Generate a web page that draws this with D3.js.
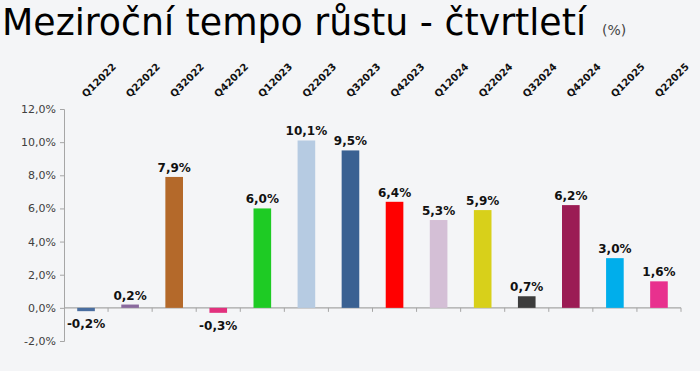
<!DOCTYPE html>
<html><head><meta charset="utf-8">
<script src="https://cdn.jsdelivr.net/npm/d3@7"></script>
<style>
html,body{margin:0;padding:0;background:#f4f5f7;}
svg{display:block;}
</style></head>
<body>
<svg id="chart" width="700" height="371"></svg>
<script>
const categories = ["Q12022","Q22022","Q32022","Q42022","Q12023","Q22023","Q32023","Q42023","Q12024","Q22024","Q32024","Q42024","Q12025","Q22025"];
const values = [-0.2, 0.2, 7.9, -0.3, 6.0, 10.1, 9.5, 6.4, 5.3, 5.9, 0.7, 6.2, 3.0, 1.6];
const colors = ["#4a6ea0","#8a6a9e","#b4692a","#e2317e","#1ecb24","#b6cbe2","#3a6192","#ff0000","#d4bfd6","#d8d01a","#3c3c3c","#9b1c54","#00aeeb","#e8318e"];
const yTicks = [-2, 0, 2, 4, 6, 8, 10, 12];
const titleText = "Meziroční tempo růstu - čtvrtletí";
const unitText = "(%)";

const svg = d3.select("#chart");
const mLeft = 64, mRight = 681, mTop = 109, mBottom = 341;

const x = d3.scaleBand().domain(categories).range([mLeft, mRight]).paddingInner(0.6).paddingOuter(0.3);
const xb = d3.scaleBand().domain(categories).range([mLeft, mRight]);
const y = d3.scaleLinear().domain([-2, 12]).range([mBottom, mTop]);
const fmt = v => d3.format(".1f")(v).replace(".", ",").replace("−","-") + "%";

// title
const t = svg.append("text").attr("x", 2).attr("y", 35)
  .style("font-family", "'DejaVu Sans Condensed', 'DejaVu Sans', sans-serif")
  .style("font-stretch", "condensed")
  .style("font-size", "38px").attr("fill", "#000").text(titleText);
t.attr("textLength", 584).attr("lengthAdjust", "spacingAndGlyphs");
svg.append("text").attr("x", 602).attr("y", 35)
  .style("font-family", "'DejaVu Sans', sans-serif").style("font-size", "14px")
  .attr("fill", "#444").text(unitText);

// y axis
const yAxis = d3.axisLeft(y).tickValues(yTicks).tickSize(4).tickPadding(4).tickFormat(fmt);
const gy = svg.append("g").attr("transform", `translate(${mLeft},0)`).call(yAxis);
gy.select(".domain").attr("stroke", "#a6a6a6");
gy.selectAll(".tick line").attr("stroke", "#a6a6a6");
gy.selectAll(".tick text").attr("fill", "#404040")
  .style("font-family", "'DejaVu Sans', sans-serif").style("font-size", "11px");

// x axis at zero
const gx = svg.append("g").attr("transform", `translate(0,${y(0)})`);
gx.append("line").attr("x1", mLeft).attr("x2", mRight).attr("stroke", "#a6a6a6").attr("stroke-width", 1.2);
gx.selectAll("line.tk").data(categories).enter().append("line").attr("class", "tk")
  .attr("x1", d => xb(d) + xb.bandwidth()).attr("x2", d => xb(d) + xb.bandwidth())
  .attr("y1", 0).attr("y2", 4).attr("stroke", "#a6a6a6");

// bars
svg.selectAll("rect.bar").data(values).enter().append("rect").attr("class", "bar")
  .attr("x", (d, i) => x(categories[i]))
  .attr("width", x.bandwidth())
  .attr("y", d => y(Math.max(0, d)))
  .attr("height", d => Math.abs(y(d) - y(0)))
  .attr("fill", (d, i) => colors[i]);

// value labels
svg.selectAll("text.val").data(values).enter().append("text").attr("class", "val")
  .attr("x", (d, i) => x(categories[i]) + x.bandwidth() / 2)
  .attr("y", d => d >= 0 ? y(d) - 5 : y(d) + 17)
  .attr("text-anchor", "middle")
  .style("font-family", "'DejaVu Sans', sans-serif").style("font-weight", "bold").style("font-size", "12px")
  .attr("fill", "#111").text(d => fmt(d));

// category labels on top, rotated
svg.selectAll("text.cat").data(categories).enter().append("text").attr("class", "cat")
  .attr("transform", d => `translate(${xb(d) + xb.bandwidth() / 2},98) rotate(-45)`)
  .attr("text-anchor", "start")
  .style("font-family", "'DejaVu Sans', sans-serif").style("font-weight", "bold").style("font-size", "10px")
  .attr("fill", "#111").text(d => d);
</script>
</body></html>
